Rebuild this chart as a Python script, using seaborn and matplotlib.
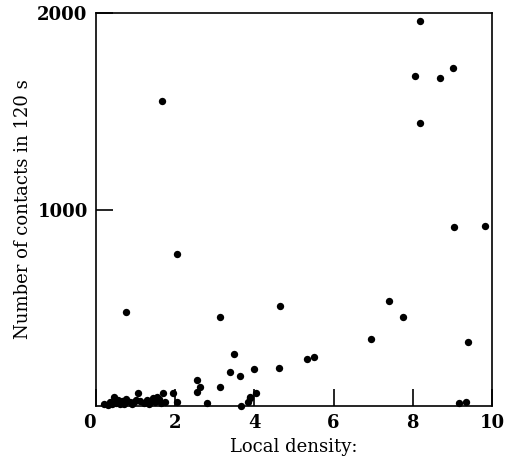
import matplotlib
matplotlib.use("Agg")
import matplotlib.pyplot as plt
import seaborn as sns
import pandas as pd

# local density vs contacts
density = [8.17, 8.06, 8.68, 9.01, 8.17, 1.67, 9.04, 9.81, 2.04,
           4.64, 7.40, 7.74, 6.95, 9.39, 3.48, 5.34, 5.51,
           3.38, 3.64, 3.99, 4.62, 4.04, 3.90, 3.85, 3.89, 3.66,
           9.16, 9.34, 0.76, 3.14, 1.95, 2.05, 2.54, 2.63, 2.54,
           2.80, 3.13,
           0.20, 0.30, 0.35, 0.46, 0.50, 0.55, 0.65, 0.70, 0.75,
           0.85, 0.90, 1.00, 1.06, 1.10, 1.20, 1.30, 1.40, 1.45,
           1.50, 1.55, 1.60, 1.65, 1.70, 1.75, 0.40, 0.60, 0.95,
           1.25, 1.35]
contacts = [1962, 1682, 1670, 1719, 1441, 1551, 910, 916, 773,
            510, 534, 451, 341, 326, 264, 241, 248,
            173, 151, 187, 192, 68, 44, 22, 39, 0,
            14, 20, 477, 454, 64, 22, 132, 98, 73,
            17, 98,
            10, 5, 20, 47, 15, 30, 25, 10, 35,
            20, 10, 30, 68, 25, 15, 30, 25, 40,
            20, 45, 35, 15, 68, 20, 8, 12, 18,
            22, 10]

df = pd.DataFrame({"density": density, "contacts": contacts})

sns.set_style("ticks")
plt.rcParams["font.family"] = ["DejaVu Serif"]
plt.rcParams.update({"text.color": "black", "axes.labelcolor": "black",
                     "xtick.color": "black", "ytick.color": "black",
                     "axes.edgecolor": "black"})

fig = plt.figure(figsize=(5.12, 4.68), dpi=100)
ax = fig.add_axes([0.1875, 0.1325, 0.7735, 0.8395])
sns.scatterplot(data=df, x="density", y="contacts", color="black",
                s=28, edgecolor="black", linewidth=0, clip_on=False, ax=ax)

ax.set_xlim(0, 10)
ax.set_ylim(0, 2000)
ax.set_xticks([0, 2, 4, 6, 8, 10])
ax.set_yticks([1000, 2000])
ax.tick_params(direction="in", length=12, width=1.2, labelsize=13, pad=6)
for lab in ax.get_xticklabels() + ax.get_yticklabels():
    lab.set_fontweight("bold")
ax.get_xticklabels()[0].set_horizontalalignment("right")
for sp in ax.spines.values():
    sp.set_linewidth(1.2)
    sp.set_visible(True)

ax.set_xlabel("Local density:", fontsize=13)
ax.set_ylabel("Number of contacts in 120 s", fontsize=13)

fig.savefig("out.png", dpi=100)
